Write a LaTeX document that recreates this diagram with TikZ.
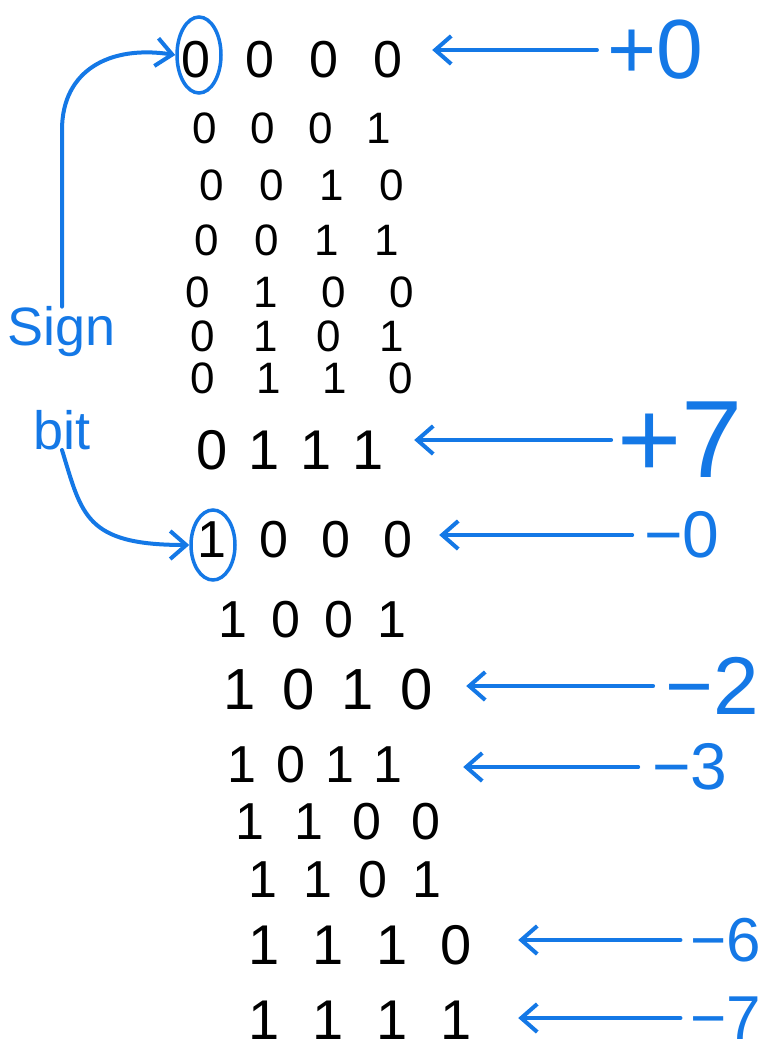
\documentclass[tikz,border=0pt]{standalone}
\usepackage{fontspec}
\setmainfont{Liberation Sans}
\usetikzlibrary{arrows.meta,shapes.geometric}
\definecolor{pen}{RGB}{20,120,230}
\newcommand\dgs[5]{\makebox[#1]{#2}\makebox[#1]{#3}\makebox[#1]{#4}\makebox[#1]{#5}}
\newcommand\mn{\char"2212\relax}
\begin{document}
\begin{tikzpicture}[x=1pt,y=-1pt,
 row/.style={inner sep=0pt,font=\fontsize{52}{52}\selectfont},
 srow/.style={inner sep=0pt,font=\fontsize{44}{44}\selectfont},
 lab/.style={text=pen,inner sep=0pt,font=\fontsize{66}{66}\selectfont},
 note/.style={text=pen,inner sep=0pt,font=\fontsize{54}{54}\selectfont},
 ptr/.style={pen,line width=4pt,line cap=round,-{Straight Barb[length=16pt,width=28pt,line width=4pt]}},
 ring/.style={draw=pen,line width=3.5pt,ellipse,inner sep=0pt,minimum width=44pt,minimum height=76pt}]
\useasboundingbox (0,0) rectangle (781,1055);
% rows
\node[row]  (r0)  at (292,60)  {\dgs{64pt}0000};
\node[srow] (r1)  at (292,128) {\dgs{58pt}0001};
\node[srow] (r2)  at (302,185) {\dgs{60pt}0010};
\node[srow] (r3)  at (297,240) {\dgs{60pt}0011};
\node[srow] (r4)  at (300,292) {\dgs{68pt}0100};
\node[srow] (r5)  at (297,336) {\dgs{63pt}0101};
\node[srow] (r6)  at (302,378) {\dgs{66pt}0110};
\node[row,font=\fontsize{56}{56}\selectfont] (r7) at (290,450) {\dgs{52pt}0111};
\node[row]  (r8)  at (305,540) {\dgs{62pt}1000};
\node[row]  (r9)  at (312,620) {\dgs{53pt}1001};
\node[row,font=\fontsize{58}{58}\selectfont] (r10) at (328,690) {\dgs{59pt}1010};
\node[row]  (r11) at (315,765) {\dgs{49pt}1011};
\node[row]  (r12) at (338,822) {\dgs{59pt}1100};
\node[row]  (r13) at (345,880) {\dgs{55pt}1101};
\node[row,font=\fontsize{56}{56}\selectfont] (r14) at (360,945) {\dgs{64pt}1110};
\node[row,font=\fontsize{56}{56}\selectfont] (r15) at (360,1020) {\dgs{64pt}1111};
% sign-bit rings
\node[ring] (c0) at (199,55) {};
\node[ring,minimum height=70pt] (c1) at (213,545) {};
% sign bit note
\node[note] (sign) at (62,332) {Sign};
\node[note] (bit) at (62,430) {bit};
\draw[ptr] (sign.north) -- (62,130) .. controls (62,70) and (110,45) .. (c0.west);
\draw[ptr] (bit.south) .. controls (82,515) and (85,545) .. (c1.west);
% value labels
\node[lab,font=\fontsize{84}{84}\selectfont] (l0) at (655,50) {+0};
\node[lab,font=\fontsize{110}{110}\selectfont] (l7) at (680,440) {+7};
\node[lab] (lm0) at (682,535) {\mn0};
\node[lab,font=\fontsize{82}{82}\selectfont] (lm2) at (712,686) {\mn2};
\node[lab] (lm3) at (690,767) {\mn3};
\node[lab,font=\fontsize{62}{62}\selectfont] (lm6) at (726,940) {\mn6};
\node[lab,font=\fontsize{62}{62}\selectfont] (lm7) at (726,1018) {\mn7};
\draw[ptr,shorten <=10pt,shorten >=12pt] (l0.west) -- (l0.west -| r0.east);
\draw[ptr,shorten <=6pt,shorten >=20pt] (l7.west) -- (l7.west -| r7.east);
\draw[ptr,shorten <=12pt,shorten >=10pt] (lm0.west) -- (lm0.west -| r8.east);
\draw[ptr,shorten <=12pt,shorten >=20pt] (lm2.west) -- (lm2.west -| r10.east);
\draw[ptr,shorten <=14pt,shorten >=50pt] (lm3.west) -- (lm3.west -| r11.east);
\draw[ptr,shorten <=10pt,shorten >=30pt] (lm6.west) -- (lm6.west -| r14.east);
\draw[ptr,shorten <=10pt,shorten >=30pt] (lm7.west) -- (lm7.west -| r15.east);
\end{tikzpicture}
\end{document}
